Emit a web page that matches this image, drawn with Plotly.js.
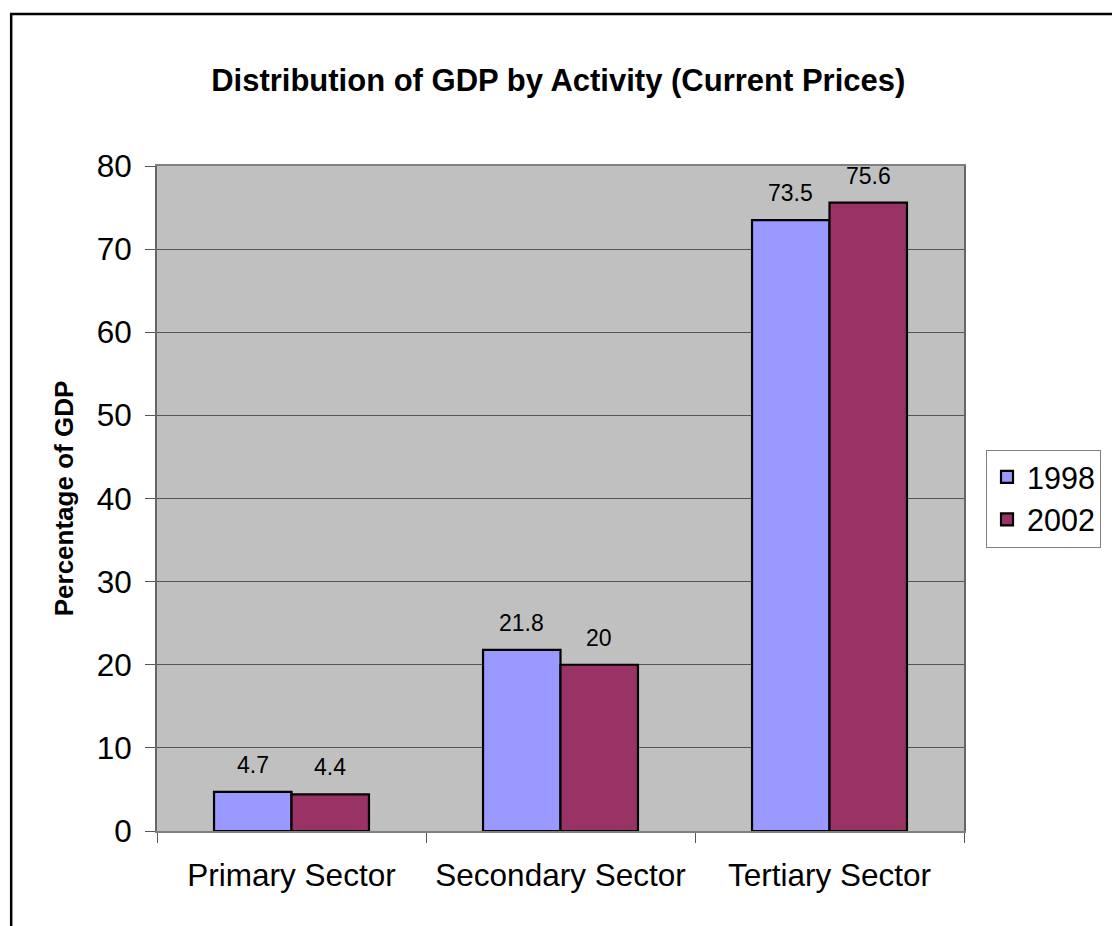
<!DOCTYPE html>
<html>
<head>
<meta charset="utf-8">
<script src="https://cdn.plot.ly/plotly-3.0.1.min.js"></script>
<style>
  html, body { margin: 0; padding: 0; background: #fff; overflow: hidden; }
  #chart { width: 1112px; height: 926px; }
</style>
</head>
<body>
<div id="chart"></div>
<script>
// ---- Data ----
const categories = ["Primary Sector", "Secondary Sector", "Tertiary Sector"];
const seriesNames = ["1998", "2002"];
const values1998 = [4.7, 21.8, 73.5];
const values2002 = [4.4, 20, 75.6];
const seriesColors = ["#9999FF", "#993366"];
const yTickValues = [0, 10, 20, 30, 40, 50, 60, 70, 80];

const seriesValues = [values1998, values2002];
const groupOffset = 0.144; // half-bar offset in category units

const traces = seriesValues.map((vals, i) => ({
  type: "bar",
  name: seriesNames[i],
  x: categories,
  y: vals,
  marker: { color: seriesColors[i], line: { color: "#000", width: 2.2 } },
  hoverinfo: "x+y+name"
}));

const annotations = [];
seriesValues.forEach((vals, s) => {
  vals.forEach((v, c) => {
    annotations.push({
      xref: "x", yref: "y",
      x: c + (s === 0 ? -groupOffset : groupOffset),
      y: v,
      text: String(v),
      showarrow: false,
      yanchor: "bottom",
      yshift: 12,
      font: { family: "Arial, Liberation Sans, sans-serif", size: 23, color: "#000" }
    });
  });
});

const layout = {
  width: 1112,
  height: 926,
  margin: { l: 157, r: 147, t: 166, b: 95, pad: 0 },
  paper_bgcolor: "#ffffff",
  plot_bgcolor: "#C0C0C0",
  font: { family: "Arial, Liberation Sans, sans-serif", color: "#000" },
  title: {
    text: "<b>Distribution of GDP by Activity (Current Prices)</b>",
    font: { size: 31, color: "#000", family: "Arial, Liberation Sans, sans-serif" },
    xref: "container", yref: "container",
    x: 0.502, xanchor: "center",
    y: 1 - 80 / 926, yanchor: "middle"
  },
  bargap: 0.424,
  bargroupgap: 0,
  barmode: "group",
  xaxis: {
    type: "category",
    tickson: "boundaries",
    ticks: "outside",
    ticklen: 10,
    tickcolor: "#555",
    tickwidth: 1,
    ticklabelstandoff: 15,
    showline: true,
    linecolor: "#808080",
    linewidth: 2,
    mirror: true,
    showgrid: false,
    tickfont: { size: 31.5, color: "#000" },
    fixedrange: true
  },
  yaxis: {
    range: [0, 80],
    tickvals: yTickValues,
    ticks: "outside",
    ticklen: 10,
    tickcolor: "#555",
    tickwidth: 1,
    ticklabelstandoff: 7,
    showline: true,
    linecolor: "#666",
    linewidth: 2,
    mirror: true,
    showgrid: true,
    gridcolor: "#555",
    gridwidth: 1,
    zeroline: false,
    tickfont: { size: 31.5, color: "#000" },
    title: {
      text: "<b>Percentage of GDP</b>",
      font: { size: 26, color: "#000" },
      standoff: 16
    },
    fixedrange: true
  },
  legend: {
    x: 1.026, xanchor: "left",
    y: 0.5, yanchor: "middle",
    bgcolor: "#fff",
    bordercolor: "#808080",
    borderwidth: 1,
    font: { size: 30.5, color: "#000" },
    tracegroupgap: 0
  },
  annotations: annotations,
  shapes: [{
    type: "rect", xref: "paper", yref: "paper",
    x0: (11 - 157) / 808, x1: 1.6,
    y0: -0.5, y1: (831 - 14) / 665,
    line: { color: "#000", width: 2.5 },
    fillcolor: "rgba(0,0,0,0)",
    layer: "above"
  }]
};

Plotly.newPlot("chart", traces, layout, { displayModeBar: false, staticPlot: true });
</script>
</body>
</html>
